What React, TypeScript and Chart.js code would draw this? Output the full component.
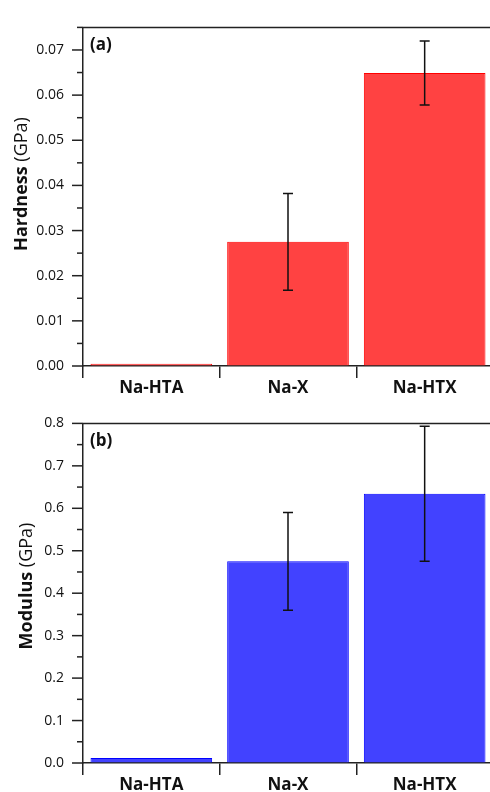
import React, { useEffect, useRef } from "react";
import { Chart, registerables } from "chart.js";

Chart.register(...registerables);

const categories = ["Na-HTA", "Na-X", "Na-HTX"];
const hardness = [0.0005, 0.0275, 0.0649];
const hardnessErr = [0, 0.0107, 0.0071];
const modulus = [0.012, 0.475, 0.634];
const modulusErr = [0, 0.115, 0.159];

const FONT = "'Open Sans', 'DejaVu Sans', sans-serif";
const AXIS = "#222";

type PanelCfg = {
  values: number[];
  errors: number[];
  fill: string;
  stroke: string;
  max: number;
  step: number;
  majorEvery: number;
  decimals: number;
  titleBold: string;
  titleRest: string;
  titleX: number;
  titleY: number;
  tag: string;
  padTop: number;
  xHeight: number;
};

function makeChart(canvas: HTMLCanvasElement, cfg: PanelCfg) {
  const errPlugin = {
    id: "errbars",
    afterDatasetsDraw(chart: any) {
      const ctx = chart.ctx;
      const y = chart.scales.y;
      const meta = chart.getDatasetMeta(0);
      ctx.save();
      ctx.strokeStyle = "#111";
      ctx.lineWidth = 1.5;
      cfg.values.forEach((v, i) => {
        const e = cfg.errors[i];
        if (!e) return;
        const x = meta.data[i].x;
        const yt = y.getPixelForValue(v + e);
        const yb = y.getPixelForValue(v - e);
        ctx.beginPath();
        ctx.moveTo(x, yt);
        ctx.lineTo(x, yb);
        ctx.moveTo(x - 5, yt);
        ctx.lineTo(x + 5, yt);
        ctx.moveTo(x - 5, yb);
        ctx.lineTo(x + 5, yb);
        ctx.stroke();
      });
      ctx.restore();
    },
  };

  const decoPlugin = {
    id: "deco",
    afterDraw(chart: any) {
      const ctx = chart.ctx;
      const area = chart.chartArea;
      const y = chart.scales.y;
      ctx.save();
      ctx.strokeStyle = AXIS;
      ctx.lineWidth = 1.5;
      ctx.beginPath();
      ctx.moveTo(area.left, area.top);
      ctx.lineTo(chart.width, area.top);
      ctx.stroke();
      y.ticks.forEach((t: any) => {
        const py = y.getPixelForValue(t.value);
        const n = Math.round(t.value / cfg.step);
        const major = n % cfg.majorEvery === 0;
        const len = major ? 11 : 6;
        ctx.beginPath();
        ctx.moveTo(area.left - len, py);
        ctx.lineTo(area.left, py);
        ctx.stroke();
      });
      ctx.fillStyle = "#111";
      ctx.font = `bold 17px ${FONT}`;
      ctx.textAlign = "left";
      ctx.textBaseline = "middle";
      ctx.fillText(cfg.tag, area.left + 7, area.top + 18);
      ctx.translate(cfg.titleX, cfg.titleY);
      ctx.rotate(-Math.PI / 2);
      ctx.font = `bold 18px ${FONT}`;
      const w1 = ctx.measureText(cfg.titleBold).width;
      ctx.font = `18px ${FONT}`;
      const w2 = ctx.measureText(cfg.titleRest).width;
      const start = -(w1 + w2) / 2;
      ctx.font = `bold 18px ${FONT}`;
      ctx.fillText(cfg.titleBold, start, 0);
      ctx.font = `18px ${FONT}`;
      ctx.fillText(cfg.titleRest, start + w1, 0);
      ctx.restore();
    },
  };

  return new Chart(canvas, {
    type: "bar",
    data: {
      labels: categories,
      datasets: [
        {
          data: cfg.values,
          backgroundColor: cfg.fill,
          borderColor: cfg.stroke,
          borderWidth: 1,
          barPercentage: 0.89,
          categoryPercentage: 1,
        },
      ],
    },
    options: {
      animation: false,
      responsive: false,
      devicePixelRatio: 1,
      layout: { padding: { top: cfg.padTop, right: 7, left: 0, bottom: 0 } },
      plugins: { legend: { display: false }, tooltip: { enabled: false } },
      scales: {
        x: {
          grid: {
            display: true,
            drawOnChartArea: false,
            drawTicks: true,
            tickLength: 12,
            color: AXIS,
            lineWidth: 1.5,
            offset: true,
          },
          border: { display: true, color: AXIS, width: 1.5 },
          ticks: {
            color: "#111",
            font: { family: FONT, size: 17, weight: "bold" },
            padding: 0,
            maxRotation: 0,
          },
          afterFit: (s: any) => {
            s.height = cfg.xHeight;
          },
        },
        y: {
          min: 0,
          max: cfg.max,
          grid: { display: true, drawOnChartArea: false, drawTicks: false },
          border: { display: true, color: AXIS, width: 1.5 },
          ticks: {
            stepSize: cfg.step,
            color: "#111",
            padding: 19,
            font: { family: FONT, size: 14 },
            autoSkip: false,
            callback: (v: any) => {
              const n = Math.round(Number(v) / cfg.step);
              if (n % cfg.majorEvery !== 0) return "";
              return Number(v).toFixed(cfg.decimals);
            },
          },
          afterFit: (s: any) => {
            s.width = 83;
          },
        },
      },
    },
    plugins: [errPlugin, decoPlugin],
  } as any);
}

export default function App() {
  const topRef = useRef<HTMLCanvasElement>(null);
  const botRef = useRef<HTMLCanvasElement>(null);

  useEffect(() => {
    document.body.style.margin = "0";
    const c1 = makeChart(topRef.current!, {
      values: hardness,
      errors: hardnessErr,
      fill: "rgb(255,66,66)",
      stroke: "rgb(255,0,0)",
      max: 0.075,
      step: 0.005,
      majorEvery: 2,
      decimals: 2,
      titleBold: "Hardness",
      titleRest: " (GPa)",
      titleX: 22,
      titleY: 184,
      tag: "(a)",
      padTop: 16,
      xHeight: 30,
    });
    const c2 = makeChart(botRef.current!, {
      values: modulus,
      errors: modulusErr,
      fill: "rgb(66,66,255)",
      stroke: "rgb(0,0,255)",
      max: 0.8,
      step: 0.05,
      majorEvery: 2,
      decimals: 1,
      titleBold: "Modulus",
      titleRest: " (GPa)",
      titleX: 27,
      titleY: 190,
      tag: "(b)",
      padTop: 17,
      xHeight: 29,
    });
    return () => {
      c1.destroy();
      c2.destroy();
    };
  }, []);

  return (
    <div
      style={{
        position: "absolute",
        left: 0,
        top: 0,
        width: 490,
        height: 792,
        overflow: "hidden",
        background: "#fff",
      }}
    >
      <canvas ref={topRef} width={500} height={396} style={{ position: "absolute", left: 0, top: 0, width: 500, height: 396 }} />
      <canvas ref={botRef} width={500} height={396} style={{ position: "absolute", left: 0, top: 396, width: 500, height: 396 }} />
    </div>
  );
}
